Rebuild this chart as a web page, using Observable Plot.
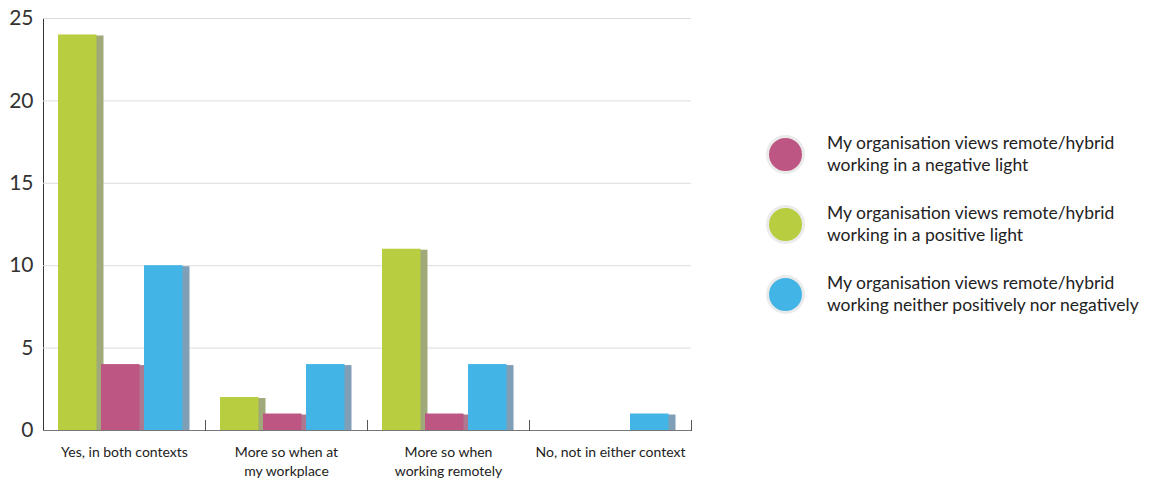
<!DOCTYPE html>
<html>
<head>
<meta charset="utf-8">
<script src="https://cdn.jsdelivr.net/npm/d3@7"></script>
<script src="https://cdn.jsdelivr.net/npm/@observablehq/plot@0.6"></script>
<style>
  html, body { margin: 0; padding: 0; background: #fff; }
  #wrap { position: relative; width: 1154px; height: 479px; font-family: Lato, "Noto Sans", sans-serif; }
  #legend { position: absolute; left: 766px; top: 119px; }
  .item { display: flex; align-items: center; height: 70px; }
  .sw { width: 33px; height: 33px; border-radius: 50%; border: 3px solid #ebebeb; margin-right: 22px; flex: none; }
  .lab { font-size: 17.5px; line-height: 22px; color: #222; }
</style>
</head>
<body>
<div id="wrap"><div id="chart"></div><div id="legend"></div></div>
<script>
const categories = ["Yes, in both contexts", "More so when at\nmy workplace", "More so when\nworking remotely", "No, not in either context"];
const seriesNames = ["positive", "negative", "neither"];
const positive = [24, 2, 11, 0];
const negative = [4, 1, 1, 0];
const neither = [10, 4, 4, 1];
const faceColors = ["#b8cd3f", "#bd5682", "#42b5e6"];
const sideColors = ["#9fa97a", "#ad7890", "#7f9fb7"];
const legendOrder = ["negative", "positive", "neither"];
const legendLabels = {
  negative: "My organisation views remote/hybrid\nworking in a negative light",
  positive: "My organisation views remote/hybrid\nworking in a positive light",
  neither: "My organisation views remote/hybrid\nworking neither positively nor negatively"
};
const yTicks = [0, 5, 10, 15, 20, 25];

const valuesBySeries = {positive, negative, neither};
const data = [];
categories.forEach((c, i) => seriesNames.forEach(s => data.push({cat: c, series: s, value: valuesBySeries[s][i]})));

const W = 700, H = 479, mt = 18, mb = 49, ml = 43, mr = 9;
const innerH = H - mt - mb;

const chart = Plot.plot({
  width: W, height: H,
  marginTop: mt, marginBottom: mb, marginLeft: ml, marginRight: mr,
  style: {fontFamily: "Lato, 'Noto Sans', sans-serif", color: "#333", background: "#fff"},
  fx: {domain: categories, padding: 0, axis: null},
  x: {domain: seriesNames, paddingInner: 0, paddingOuter: 0.36, align: 0.45, axis: null},
  y: {domain: [0, 25], ticks: yTicks, tickSize: 0, tickPadding: 10, label: null, line: true},
  color: {domain: seriesNames, range: faceColors},
  marks: [
    Plot.gridY(yTicks, {stroke: "#dcdcdc", strokeOpacity: 1}),
    Plot.barY(data, {fx: "cat", x: "series", y: "value", fill: d => sideColors[seriesNames.indexOf(d.series)], insetLeft: 36, insetRight: -2.5, insetTop: 1}),
    Plot.barY(data, {fx: "cat", x: "series", y: "value", fill: "series", insetRight: 4.5}),
    Plot.ruleY([0], {stroke: "#777"}),
    Plot.frame({anchor: "right", stroke: "#555", insetTop: innerH - 10}),
    Plot.text(categories, {fx: d => d, text: d => d, frameAnchor: "bottom", lineAnchor: "top", dy: 14, fontSize: 14, fill: "#222", lineHeight: 1.3})
  ]
});
document.getElementById("chart").appendChild(chart);
d3.select(chart).selectAll("[aria-label='y-axis tick label'] text, [aria-label='y-axis'] text").attr("font-size", 21).attr("fill", "#333");

const leg = document.getElementById("legend");
const colorOf = s => faceColors[seriesNames.indexOf(s)];
legendOrder.forEach(s => {
  const it = document.createElement("div"); it.className = "item";
  const sw = document.createElement("div"); sw.className = "sw"; sw.style.background = colorOf(s);
  const lb = document.createElement("div"); lb.className = "lab"; lb.innerHTML = legendLabels[s].split("\n").join("<br>");
  it.appendChild(sw); it.appendChild(lb); leg.appendChild(it);
});
</script>
</body>
</html>
